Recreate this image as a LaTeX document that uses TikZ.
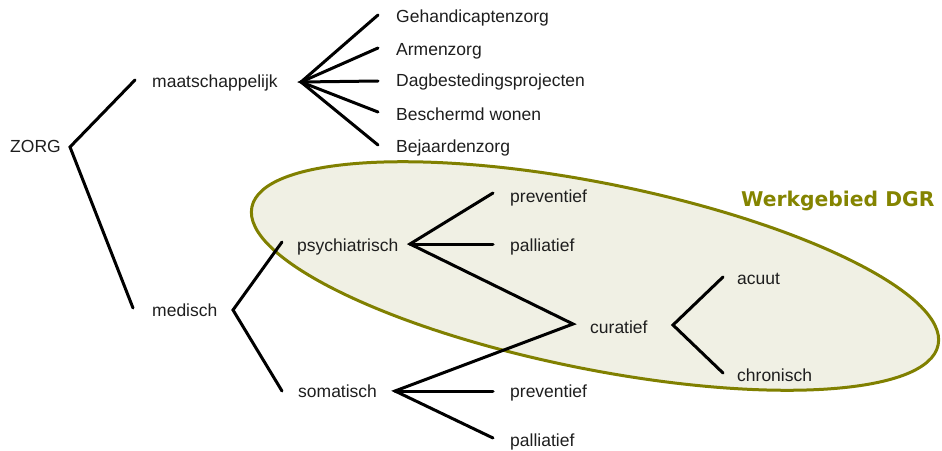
\documentclass[tikz,border=0pt]{standalone}
\usepackage{fontspec}
\setmainfont{Liberation Sans}
\newfontfamily\titlefont{DejaVu Sans}
\definecolor{dgrolive}{RGB}{128,128,0}
\definecolor{dgrtitle}{RGB}{132,132,0}
\definecolor{dgrfill}{RGB}{240,240,228}
\definecolor{inkgray}{RGB}{30,30,30}

\begin{document}
\begin{tikzpicture}[x=1pt,y=-1pt,
  lbl/.style={anchor=west, inner sep=0pt, text height=12pt, text depth=4pt,
              font=\fontsize{17.5}{20}\selectfont, text=inkgray},
  branch/.style={line width=3pt, line cap=round, line join=miter, black},
  zone/.style={line width=3pt, draw=dgrolive, fill=dgrfill}]

\useasboundingbox (0,0) rectangle (942,450);

% working area of DGR
\draw[zone, rotate around={-11.35:(595,276)}] (595,276) ellipse [x radius=350pt, y radius=93pt];
\node[anchor=west, inner sep=0pt, text=dgrtitle, font=\titlefont\bfseries\fontsize{20.3}{24}\selectfont]
  (dgr) at (741,201) {Werkgebied DGR};

% labels
\node[lbl] (zorg)  at (10,148)  {ZORG};
\node[lbl] (maat)  at (152,83)  {maatschappelijk};
\node[lbl] (med)   at (152,312) {medisch};
\node[lbl] (geh)   at (396,18)  {Gehandicaptenzorg};
\node[lbl] (arm)   at (396,51)  {Armenzorg};
\node[lbl] (dag)   at (396,82)  {Dagbestedingsprojecten};
\node[lbl] (bes)   at (396,116) {Beschermd wonen};
\node[lbl] (bej)   at (396,148) {Bejaardenzorg};
\node[lbl] (psy)   at (297,247) {psychiatrisch};
\node[lbl] (pprev) at (510,198) {preventief};
\node[lbl] (ppal)  at (510,247) {palliatief};
\node[lbl] (cur)   at (590,329) {curatief};
\node[lbl] (acu)   at (737,280) {acuut};
\node[lbl] (chr)   at (737,377) {chronisch};
\node[lbl] (som)   at (298,393) {somatisch};
\node[lbl] (sprev) at (510,393) {preventief};
\node[lbl] (spal)  at (510,442) {palliatief};

% branch points and branch ends
\coordinate (jz)    at (70,147);
\coordinate (maatL) at (135,80);
\coordinate (medL)  at (133,308);

\coordinate (jm)    at (301,82);
\coordinate (gehL)  at (378,15);
\coordinate (armL)  at (378,48);
\coordinate (dagL)  at (378,81);
\coordinate (besL)  at (378,112);
\coordinate (bejL)  at (378,145);

\coordinate (jmed)  at (233,310);
\coordinate (psyL)  at (282,242);
\coordinate (somL)  at (282,391);

\coordinate (jp)    at (410,244);
\coordinate (pprevL) at (493,193);
\coordinate (ppalL) at (493,244);
\coordinate (curL)  at (573,324);

\coordinate (js)    at (395,391);
\coordinate (sprevL) at (493,391);
\coordinate (spalL) at (493,438);

\coordinate (jc)    at (673,325);
\coordinate (acuL)  at (723,277);
\coordinate (chrL)  at (723,373);

% tree branches
\draw[branch] (maatL) -- (jz) -- (medL);
\draw[branch] (gehL) -- (jm) -- (bejL);
\draw[branch] (armL) -- (jm) -- (besL);
\draw[branch] (jm) -- (dagL);
\draw[branch] (psyL) -- (jmed) -- (somL);
\draw[branch] (pprevL) -- (jp) -- (curL) -- (js) -- (spalL);
\draw[branch] (jp) -- (ppalL);
\draw[branch] (js) -- (sprevL);
\draw[branch] (acuL) -- (jc) -- (chrL);
\end{tikzpicture}
\end{document}
